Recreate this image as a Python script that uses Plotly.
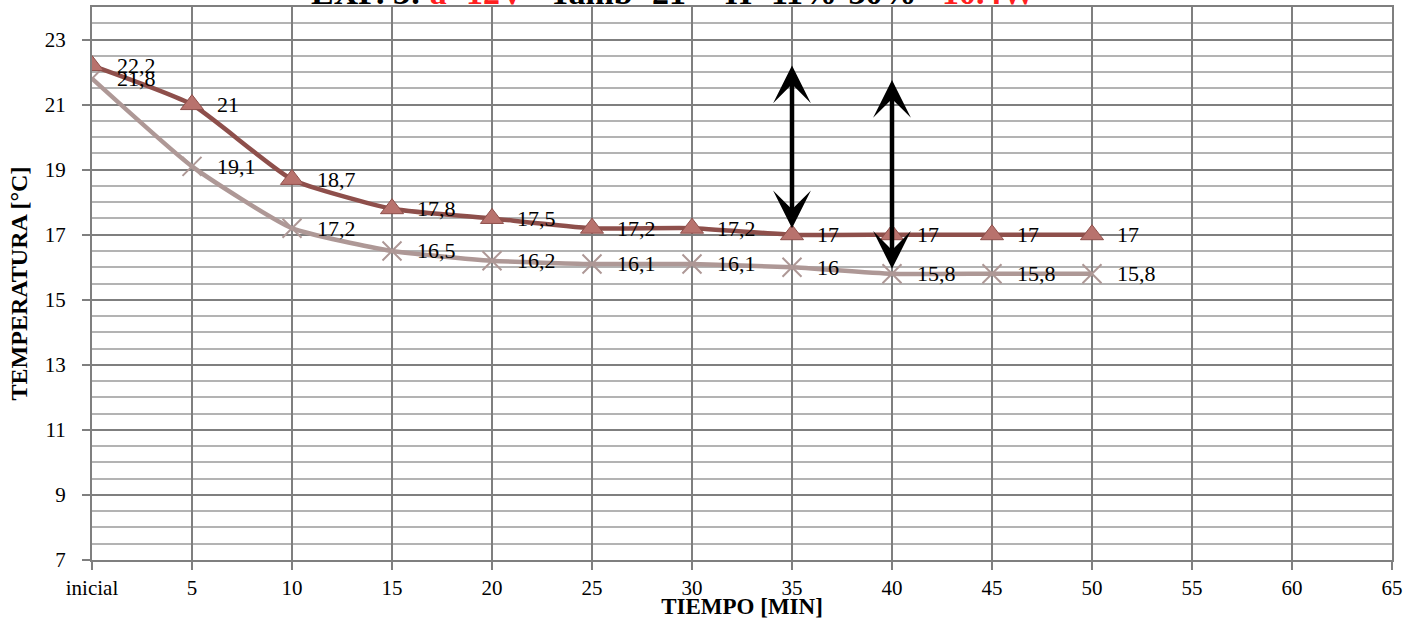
import plotly.graph_objects as go

# Time axis (minutes); 0 is the initial reading
tiempo = [0, 5, 10, 15, 20, 25, 30, 35, 40, 45, 50]
tick_vals = [0, 5, 10, 15, 20, 25, 30, 35, 40, 45, 50, 55, 60, 65]
tick_text = ["inicial", "5", "10", "15", "20", "25", "30", "35", "40", "45", "50", "55", "60", "65"]

# Temperature series [°C]
temp_a = [22.2, 21, 18.7, 17.8, 17.5, 17.2, 17.2, 17, 17, 17, 17]
temp_b = [21.8, 19.1, 17.2, 16.5, 16.2, 16.1, 16.1, 16, 15.8, 15.8, 15.8]

# Double-headed arrows marking the gaps (x, y_top, y_bottom)
flechas = [(35, 22.25, 17.2), (40, 21.8, 15.95)]

FONT = "Liberation Serif"
col_a_line = "#8E4F4B"
col_a_fill = "#B8726D"
col_b_line = "#AE9896"
col_b_mark = "#BFA7A5"


def fmt(v):
    s = f"{v:g}"
    return s.replace(".", ",")


fig = go.Figure()

fig.add_trace(go.Scatter(
    x=tiempo, y=temp_b, mode="lines+markers",
    line=dict(color=col_b_line, width=4.5, shape="spline", smoothing=0.5),
    marker=dict(symbol="x-thin-open", size=19, line=dict(color=col_b_mark, width=2)),
    showlegend=False, hoverinfo="skip",
))
fig.add_trace(go.Scatter(
    x=tiempo, y=temp_a, mode="lines+markers",
    line=dict(color=col_a_line, width=4.5, shape="spline", smoothing=0.5),
    marker=dict(symbol="triangle-up", size=20, color=col_a_fill,
                line=dict(color=col_a_line, width=1)),
    showlegend=False, hoverinfo="skip",
))

annotations = []
for serie in (temp_a, temp_b):
    for x, y in zip(tiempo, serie):
        annotations.append(dict(
            x=x, y=y, xref="x", yref="y", text=fmt(y), showarrow=False,
            xanchor="left", yanchor="middle", xshift=23,
            font=dict(family=FONT, size=22, color="black"),
        ))

for x, y1, y0 in flechas:
    annotations.append(dict(
        x=x, y=y0, ax=x, ay=y1, xref="x", yref="y", axref="x", ayref="y",
        text="", showarrow=True, arrowhead=3, startarrowhead=3,
        arrowside="end+start", arrowwidth=4.5, arrowsize=1.4,
        startarrowsize=1.4, arrowcolor="black",
    ))

# Title (sits above the plotting area)
annotations.append(dict(
    x=0.447, y=1, xref="paper", yref="paper", xanchor="center", yanchor="bottom",
    yshift=-6, showarrow=False,
    text=("<b>EXP. 3: <span style='color:#FF2020'>a=12V</span>   Tamb=21°   "
          "H=11%-30%   <span style='color:#FF2020'>10.4W</span></b>"),
    font=dict(family=FONT, size=34, color="black"),
))

fig.update_layout(
    width=1406, height=619,
    margin=dict(l=92, r=14, t=7, b=59),
    paper_bgcolor="white", plot_bgcolor="white",
    annotations=annotations,
    xaxis=dict(
        range=[0, 65], tickvals=tick_vals, ticktext=tick_text,
        showgrid=True, gridcolor="#7F7F7F", gridwidth=2,
        showline=True, linecolor="#7F7F7F", linewidth=2, mirror=True,
        ticks="outside", ticklen=8, tickwidth=2, tickcolor="#7F7F7F",
        zeroline=False, automargin=False,
        tickfont=dict(family=FONT, size=21, color="black"),
        title=dict(text="<b>TIEMPO [MIN]</b>", standoff=0,
                   font=dict(family=FONT, size=23, color="black")),
    ),
    yaxis=dict(
        range=[7, 24], tickvals=[7, 9, 11, 13, 15, 17, 19, 21, 23],
        showgrid=True, gridcolor="#7F7F7F", gridwidth=2,
        minor=dict(dtick=0.5, showgrid=True, gridcolor="#B3B3B3", gridwidth=2),
        showline=True, linecolor="#7F7F7F", linewidth=2, mirror=True,
        ticks="outside", ticklen=8, tickwidth=2, tickcolor="#7F7F7F",
        zeroline=False, ticklabelstandoff=12, automargin=False,
        tickfont=dict(family=FONT, size=21, color="black"),
        title=dict(text="<b>TEMPERATURA [°C]</b>", standoff=10,
                   font=dict(family=FONT, size=24, color="black")),
    ),
)

fig.write_html("out.html")
